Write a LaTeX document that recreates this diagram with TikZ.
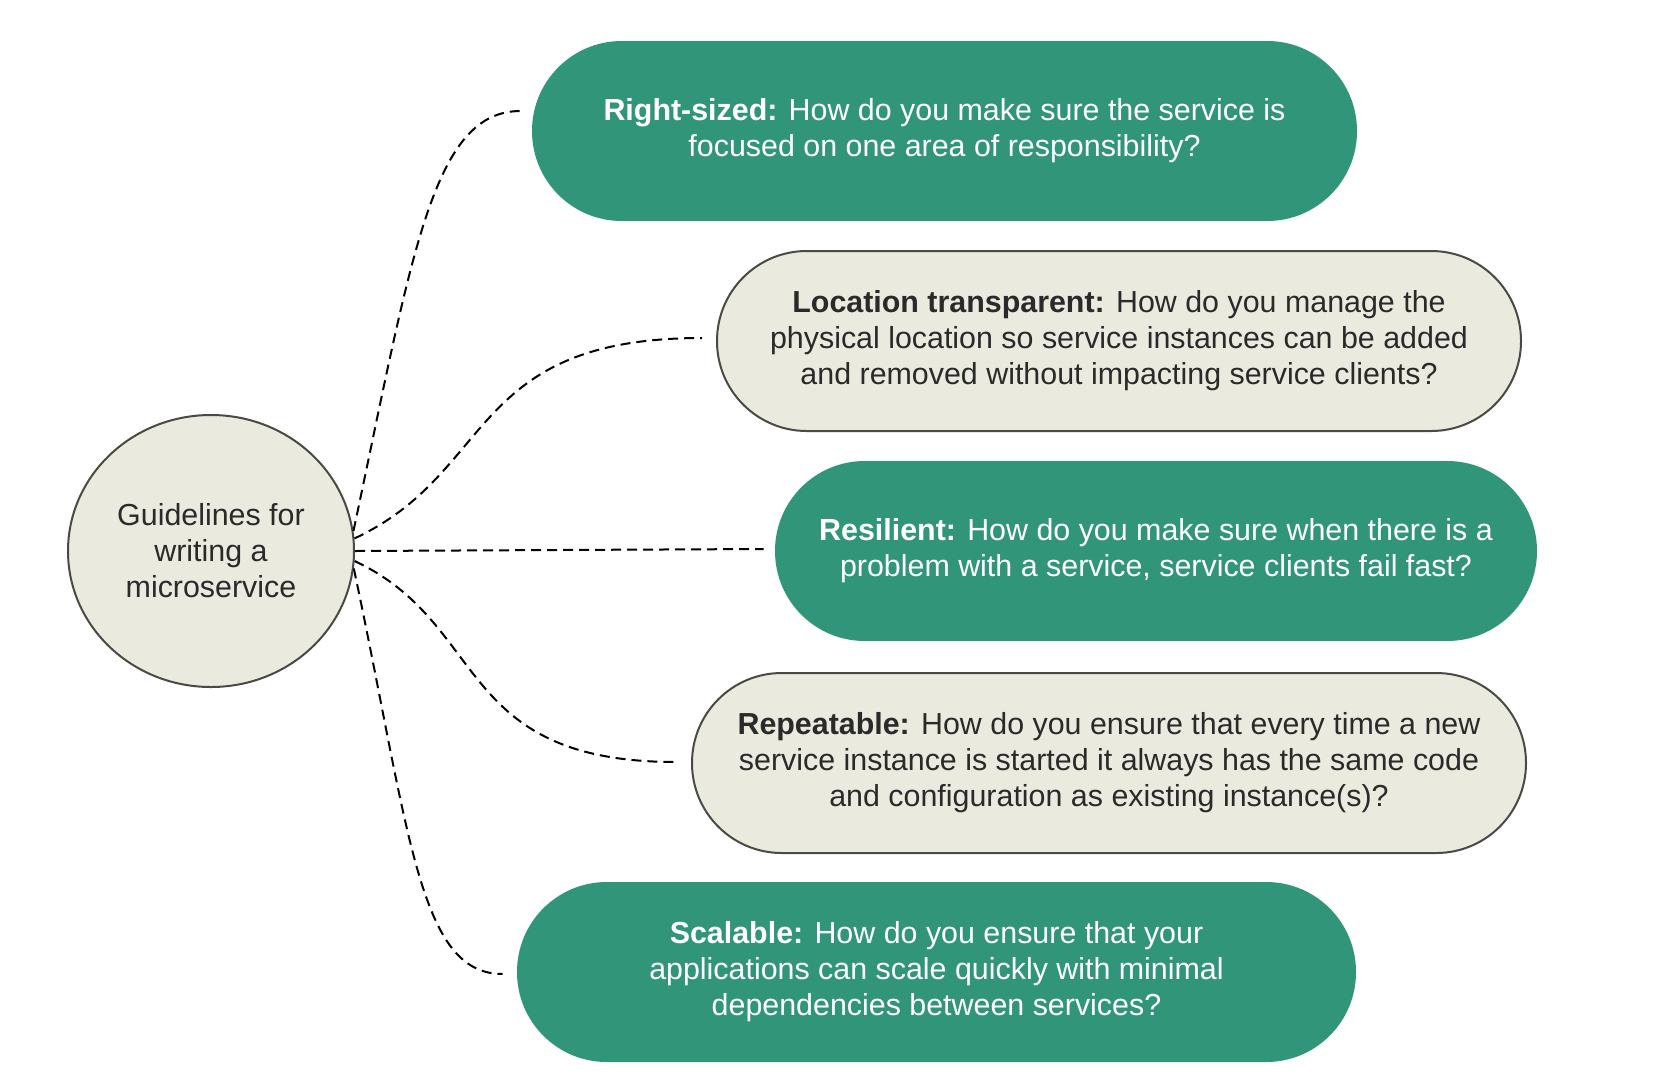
\documentclass[tikz,border=0pt]{standalone}
\usepackage{fontspec}
\setmainfont{Liberation Sans}
\usepackage{xcolor}
\usetikzlibrary{calc}
\usetikzlibrary{shapes.geometric}
\definecolor{guidegreen}{HTML}{31957A}
\definecolor{guidebeige}{HTML}{EBEADF}
\definecolor{guideline}{HTML}{4A4A45}
\definecolor{guidetext}{HTML}{2A2A2A}
\tikzstyle{greenbox} = [fill=guidegreen, text=white, rectangle, rounded corners=44.9pt,
minimum height=90pt, align=center, font=\fontsize{15.2}{18}\selectfont]
\tikzstyle{beigebox} = [draw=guideline, line width=1pt, fill=guidebeige, text=guidetext,
rectangle, rounded corners=44.9pt, minimum height=90pt, align=center,
font=\fontsize{15.2}{18}\selectfont]
\tikzstyle{hub} = [draw=guideline, line width=1pt, fill=guidebeige, text=guidetext,
ellipse, inner sep=0pt, minimum width=143pt, minimum height=136pt, align=center,
font=\fontsize{15.2}{18}\selectfont]
\tikzstyle{link} = [draw=black, line width=1pt, dash pattern=on 5pt off 3pt]

\begin{document}
\begin{tikzpicture}[x=0.5pt, y=-0.5pt]
    \useasboundingbox (0,0) rectangle (1676,1088);
    \node [hub] (guide) at (211,551) {Guidelines for\\writing a\\microservice};
    \node [greenbox, minimum width=412.5pt] (rightsized) at (944.5,131)
        {\textbf{Right-sized:} How do you make sure the service is\\focused on one area of responsibility?};
    \node [beigebox, minimum width=402pt] (location) at (1119,341)
        {\textbf{Location transparent:} How do you manage the\\physical location so service instances can be added\\and removed without impacting service clients?};
    \node [greenbox, minimum width=381pt] (resilient) at (1156,551)
        {\textbf{Resilient:} How do you make sure when there is a\\problem with a service, service clients fail fast?};
    \node [beigebox, minimum width=417pt] (repeatable) at (1109,763)
        {\textbf{Repeatable:} How do you ensure that every time a new\\service instance is started it always has the same code\\and configuration as existing instance(s)?};
    \node [greenbox, minimum width=419.5pt] (scalable) at (936.5,972)
        {\textbf{Scalable:} How do you ensure that your\\applications can scale quickly with minimal\\dependencies between services?};
    \draw [link] (guide.8) to[out=78, in=180, out looseness=1.6, in looseness=0.5] ($(rightsized.west)+(-11,-20)$);
    \draw [link] (guide.5) to[out=25, in=180, out looseness=1, in looseness=1.5] ($(location.west)+(-14,-3)$);
    \draw [link] (guide.east) -- ($(resilient.west)+(-11,-2)$);
    \draw [link] (guide.-4) to[out=-25, in=180, out looseness=1, in looseness=1.5] ($(repeatable.west)+(-15,-1)$);
    \draw [link] (guide.-7) to[out=-78, in=180, out looseness=1.6, in looseness=0.5] ($(scalable.west)+(-14,2)$);
\end{tikzpicture}
\end{document}
